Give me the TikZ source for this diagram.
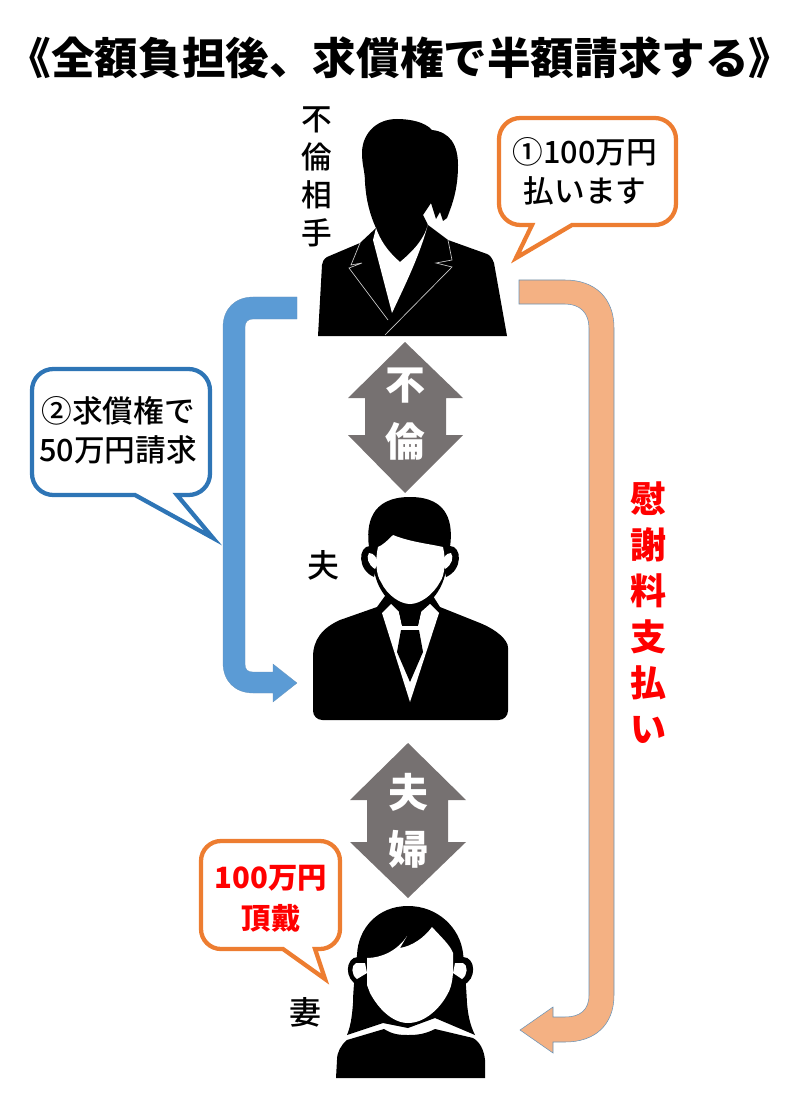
\documentclass[tikz,border=0pt]{standalone}
\usepackage{fontspec}
\usepackage{xcolor}
\setmainfont{Noto Sans CJK JP}
\newfontfamily\medfont{Noto Sans CJK JP Medium}
\definecolor{arrowblue}{HTML}{5B9BD5}
\definecolor{arrowtan}{HTML}{F4B183}
\definecolor{edgeblue}{HTML}{6A94B8}
\definecolor{bubbleorange}{HTML}{ED7D31}
\definecolor{bubbleblue}{HTML}{2E75B6}
\definecolor{bondgray}{HTML}{767171}
\tikzset{
  bubble/.style={fill=white,line width=3.2pt,line join=miter},
  saytext/.style={font=\fontsize{23}{29}\selectfont\medfont,align=center,inner sep=0pt},
  redtext/.style={font=\fontsize{22}{31}\selectfont\bfseries,text=red,align=center,inner sep=0pt},
  bondtext/.style={font=\fontsize{30}{43}\selectfont\bfseries,text=white,align=center,inner sep=0pt},
  roletext/.style={font=\fontsize{24}{28}\selectfont\medfont,align=center,inner sep=0pt},
}
\begin{document}
\begin{tikzpicture}[x=0.75pt,y=-0.75pt]
\useasboundingbox(0,0)rectangle(800,1112);
\node[inner sep=0pt,font=\fontsize{32.7}{33}\selectfont\bfseries](title)at(400,58){《全額負担後、求償権で半額請求する》};
% payment arrows
\draw[fill=arrowblue,draw=arrowblue!70!gray,very thin](297,297)--(297,319)--(253,319)..controls(248,319)and(245,322)..(245,327)--(245,664)..controls(245,670)and(248,672)..(253,672)--(273,672)--(273,664)--(297,683)--(273,702)--(273,693)--(253,693)..controls(235,693)and(223,681)..(223,663)--(223,327)..controls(223,309)and(235,297)..(253,297)--cycle;
\draw[fill=arrowtan,draw=edgeblue,thin](519,280)--(519,304)--(565,304)..controls(580,304)and(589,313)..(589,328)--(589,995)..controls(589,1010)and(580,1017)..(565,1017)--(553,1017)--(553,1007)--(520,1030)--(553,1053)--(553,1042)--(565,1042)..controls(595,1042)and(614,1025)..(614,995)--(614,328)..controls(614,298)and(595,280)..(565,280)--cycle;
% bond arrows
\fill[bondgray](405,342)--(463,398)--(446,398)--(446,435)--(463,435)--(405,493)--(348,435)--(365,435)--(365,398)--(348,398)--cycle;
\fill[bondgray](408,743)--(466,800)--(448,800)--(448,842)--(466,842)--(408,898)--(350,842)--(367,842)--(367,800)--(350,800)--cycle;
\node[bondtext](bondaffair)at(405,414){不\\倫};
\node[bondtext](bondmarried)at(408,821){夫\\婦};
% speech bubbles
\draw[bubble,draw=bubbleorange](572,225)[rounded corners=16pt]--(676,225)--(676,118)--(499,118)--(499,225)[sharp corners]--(532,225)--(516,258)--cycle;
\draw[bubble,draw=bubbleblue](135,495)[rounded corners=16pt]--(32,495)--(32,369)--(210,369)--(210,495)[sharp corners]--(177,495)--(213,538)--cycle;
\draw[bubble,draw=bubbleorange](283,949)[rounded corners=15pt]--(201,949)--(201,841)--(340,841)--(340,949)[sharp corners]--(315,949)--(325,979)--cycle;
\node[saytext](sayfirst)at(585,171){①100万円\\払います};
\node[saytext](saysecond)at(118,430){②求償権で\\50万円請求};
\node[redtext](saythird)at(271,899){100万円\\頂戴};
% role labels
\node[roletext,font=\fontsize{23}{28.5}\selectfont\medfont](lover)at(317,177){不\\倫\\相\\手};
\node[roletext](husbandlabel)at(323,565){夫};
\node[roletext](wifelabel)at(305,1012){妻};
\node[redtext,font=\fontsize{27}{34.5}\selectfont\bfseries](solatium)at(648,613){慰\\謝\\料\\支\\払\\い};
% woman in a suit
\fill[black](318,336)--(507,336)--(494,263)..controls(492,258)and(490,255)..(487,254)--(448,240)--(428,225)--(423,215)--(431,203)--(436,219)--(440,212)--(443,221)--(447,218)..controls(452,205)and(458,190)..(458,165)..controls(458,145)and(450,132)..(432,130)..controls(425,122)and(410,119)..(397,119)..controls(375,119)and(362,135)..(362,153)..controls(362,165)and(365,172)..(365,182)..controls(366,200)and(370,215)..(376,228)--(360,243)--(327,257)..controls(324,259)and(322,262)..(322,265)--cycle;
\fill[white](376,228)..controls(382,245)and(392,255)..(400,262)..controls(412,252)and(424,240)..(428,224)..controls(420,255)and(405,285)..(392,313)--(373,240)--cycle;
\draw[gray!40,line width=0.5pt](360,243)--(351,265)--(362,263)--(349,268)--(388,320);
\draw[gray!40,line width=0.5pt](448,240)--(452,260)--(436,263)--(452,267)--(385,335);
% husband
\fill[black,rounded corners=7pt](313,720)--(508,720)--(508,657)[sharp corners]..controls(508,640)and(497,630)..(480,623)--(440,607)--(433,596)--(385,596)--(377,607)--(340,620)..controls(322,628)and(313,640)..(313,657)[rounded corners=7pt]--cycle;
\fill[black](369,547)..controls(366,525)and(370,497)..(410,497)..controls(450,497)and(453,525)..(450,547)--(445,575)..controls(440,595)and(425,610)..(410,610)..controls(395,610)and(380,595)..(375,575)--cycle;
\fill[black](370,546)..controls(358,546)and(357,570)..(374,577)--(380,550)--cycle;
\fill[black](450,546)..controls(462,546)and(463,570)..(446,577)--(440,550)--cycle;
\fill[white](378,547)..controls(383,545)and(388,540)..(393,535)..controls(410,542)and(430,544)..(443,547)..controls(446,560)and(445,575)..(440,582)..controls(433,595)and(420,604)..(410,604)..controls(400,604)and(387,595)..(381,582)..controls(376,575)and(375,560)..(378,547)--cycle;
\fill[white](369,553)..controls(374,553)and(377,558)..(378,563)--(375,569)..controls(368,565)and(366,557)..(369,553)--cycle;
\fill[white](451,553)..controls(446,553)and(443,558)..(442,563)--(445,569)..controls(452,565)and(454,557)..(451,553)--cycle;
\fill[white](382,613)--(391,604)--(399,612)--(402,626)--(418,626)--(421,612)--(430,604)--(439,613)--(410,702)--cycle;
\fill[black](399,612)--(421,612)--(418,625)--(402,625)--cycle;
\fill[black](401,630)--(419,630)--(423,652)--(410,682)--(397,652)--cycle;
% wife
\fill[black](408,906)..controls(378,906)and(358,928)..(357,955)..controls(355,975)and(353,990)..(353,1003)..controls(352,1018)and(350,1028)..(347,1035)--(383,1023)--(408,1028)--(435,1018)--(475,1035)..controls(470,1025)and(468,1015)..(467,1003)..controls(466,985)and(465,970)..(463,953)..controls(460,928)and(438,906)..(408,906)--cycle;
\fill[black](358,957)..controls(345,957)and(344,980)..(358,985)--(372,985)--(372,957)--cycle;
\fill[black](463,957)..controls(476,957)and(477,980)..(463,985)--(449,985)--(449,957)--cycle;
\fill[white](367,958)..controls(382,958)and(398,950)..(407,936)--(400,948)..controls(412,946)and(424,938)..(432,927)..controls(442,938)and(450,945)..(453,953)--(453,973)..controls(452,985)and(450,990)..(447,995)..controls(440,1008)and(425,1023)..(408,1023)..controls(392,1023)and(378,1008)..(370,993)--(367,985)--cycle;
\fill[white](356,963)..controls(351,965)and(351,975)..(357,979)--(367,973)--(365,963)--cycle;
\fill[white](463,963)..controls(468,965)and(468,975)..(462,979)--(453,973)--(455,963)--cycle;
\fill[black](336,1078)--(485,1078)--(485,1060)..controls(484,1050)and(480,1042)..(473,1038)--(435,1029)..controls(425,1034)and(418,1035)..(408,1035)..controls(398,1035)and(392,1034)..(384,1029)--(347,1040)..controls(341,1045)and(337,1052)..(337,1060)--cycle;
\end{tikzpicture}
\end{document}
